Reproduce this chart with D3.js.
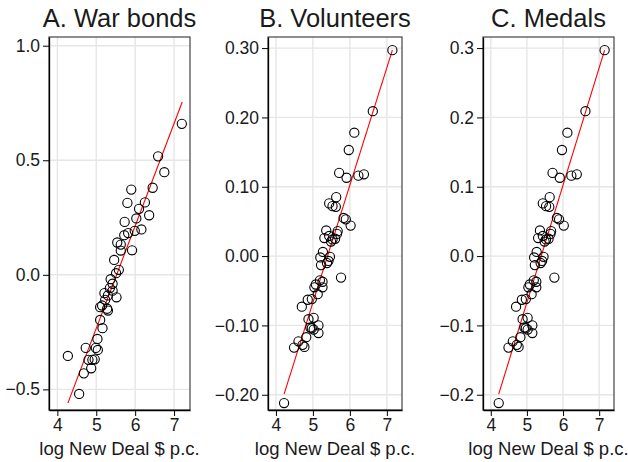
<!DOCTYPE html>
<head>
  <meta charset="utf-8">
  <script src="https://d3js.org/d3.v7.min.js"></script>
  <style>
  body { margin: 0; background: white; }
  #chart text { font-family: "Liberation Sans", Arial, sans-serif; fill: #1a1a1a; }
  .grid line { stroke: #e6e6e6; stroke-width: 1.4; }
  .axis path, .axis line { stroke: black; }
  </style>
</head>

<body>
  <svg id="chart"></svg>
  <script>

    // panel A: war bonds
    var bondsX = [7.20, 6.59, 6.75, 5.90, 6.45, 5.80, 6.25, 6.10, 6.36, 6.03, 5.73, 6.16, 5.99, 5.82, 5.72, 5.54, 5.63, 5.92,
                  5.63, 5.46, 5.58, 5.51, 5.37, 5.42, 5.35, 5.21, 5.42, 5.52, 5.30, 5.23, 5.15, 5.10, 5.28, 5.30, 5.10, 5.16,
                  5.03, 4.73, 4.99, 5.04, 4.27, 4.80, 4.90, 4.96, 4.87, 4.68, 4.56];
    var bondsY = [0.659, 0.517, 0.448, 0.372, 0.380, 0.314, 0.316, 0.288, 0.260, 0.246, 0.231, 0.198, 0.192, 0.182, 0.173, 0.141, 0.132, 0.107,
                  0.106, 0.065, 0.022, 0.007, -0.019, -0.039, -0.058, -0.080, -0.069, -0.098, -0.090, -0.109, -0.134, -0.141, -0.148, -0.156, -0.197, -0.233,
                  -0.280, -0.319, -0.319, -0.328, -0.354, -0.371, -0.371, -0.369, -0.408, -0.430, -0.520];

    // panels B and C: volunteers and medals share the same values
    var volX = [7.15, 6.62, 6.12, 5.97, 5.71, 5.91, 6.23, 6.38, 5.63, 5.44, 5.53, 5.62, 5.83, 5.89, 6.02, 5.36, 5.67,
                5.65, 5.31, 5.44, 5.53, 5.60, 5.49, 5.27, 5.20, 5.46, 5.42, 5.38, 5.22, 5.76, 5.19, 5.26, 5.08, 5.04, 5.26,
                5.13, 4.97, 4.86, 4.70, 5.02, 4.88, 5.15, 4.93, 4.97, 5.02, 5.15, 4.82, 4.61, 4.72, 4.77, 4.49, 4.22];
    var volY = [0.297, 0.209, 0.178, 0.153, 0.120, 0.113, 0.116, 0.118, 0.085, 0.076, 0.072, 0.071, 0.055, 0.053, 0.044, 0.037, 0.036,
                0.032, 0.026, 0.029, 0.024, 0.025, 0.021, 0.006, -0.002, -0.001, -0.007, -0.010, -0.013, -0.031, -0.035, -0.037, -0.041, -0.045, -0.045,
                -0.055, -0.062, -0.063, -0.073, -0.089, -0.091, -0.100, -0.103, -0.104, -0.106, -0.111, -0.117, -0.123, -0.128, -0.131, -0.132, -0.212];

    // fitted lines, endpoints
    var fitBondsX = [4.27, 7.21], fitBondsY = [-0.56, 0.754];
    var fitVolX = [4.22, 7.15], fitVolY = [-0.199, 0.297];

    var titles = ["A. War bonds", "B. Volunteers", "C. Medals"];
    var xTicks = [4, 5, 6, 7];
    var yTicksA = [-0.5, 0.0, 0.5, 1.0];
    var yTicksB = [-0.20, -0.10, 0.00, 0.10, 0.20, 0.30];

    var width = 628, height = 462;
    var plotTop = 37, plotBottom = 410;

    var panels = [
      { title: titles[0], left: 49, right: 190, xs: bondsX, ys: bondsY, fx: fitBondsX, fy: fitBondsY,
        ydom: [-0.59, 1.038], yticks: yTicksA, fmt: d3.format(".1f") },
      { title: titles[1], left: 268, right: 402, xs: volX, ys: volY, fx: fitVolX, fy: fitVolY,
        ydom: [-0.222, 0.316], yticks: yTicksB, fmt: d3.format(".2f") },
      { title: titles[2], left: 483, right: 614, xs: volX, ys: volY, fx: fitVolX, fy: fitVolY,
        ydom: [-0.222, 0.316], yticks: yTicksB, fmt: d3.format(".1f") }
    ];

    var chart = d3.select('#chart')
        .attr('width', width)
        .attr('height', height);

    panels.forEach(function(p) {
      var x = d3.scaleLinear().domain([3.785, 7.41]).range([p.left, p.right]);
      var y = d3.scaleLinear().domain(p.ydom).range([plotBottom, plotTop]);
      var g = chart.append('g');

      var grid = g.append('g').attr('class', 'grid');
      grid.selectAll('.gx').data(xTicks).enter().append('line')
          .attr('x1', x).attr('x2', x).attr('y1', plotTop).attr('y2', plotBottom);
      grid.selectAll('.gy').data(p.yticks).enter().append('line')
          .attr('y1', y).attr('y2', y).attr('x1', p.left).attr('x2', p.right);

      g.append('rect')
          .attr('x', p.left).attr('y', plotTop)
          .attr('width', p.right - p.left).attr('height', plotBottom - plotTop)
          .attr('fill', 'none').attr('stroke', '#444').attr('stroke-width', 1.2);

      var yAxis = g.append('g').attr('class', 'axis')
          .attr('transform', 'translate(' + p.left + ',0)')
          .call(d3.axisLeft(y).tickValues(p.yticks).tickFormat(p.fmt).tickSize(6).tickSizeOuter(0).tickPadding(3));
      yAxis.select('.domain').attr('stroke-width', 1.3);
      yAxis.selectAll('text').style('font-size', '17.5px');

      var xAxis = g.append('g').attr('class', 'axis')
          .attr('transform', 'translate(0,' + plotBottom + ')')
          .call(d3.axisBottom(x).tickValues(xTicks).tickFormat(d3.format('d')).tickSize(6).tickSizeOuter(0).tickPadding(3));
      xAxis.select('.domain').attr('stroke-width', 1.3);
      xAxis.selectAll('text').style('font-size', '17.5px');

      g.append('line')
          .attr('x1', x(p.fx[0])).attr('y1', y(p.fy[0]))
          .attr('x2', x(p.fx[1])).attr('y2', y(p.fy[1]))
          .attr('stroke', '#ff0000').attr('stroke-width', 1.1);

      g.selectAll('circle')
          .data(d3.range(p.xs.length))
        .enter().append('circle')
          .attr('cx', function(i) { return x(p.xs[i]); })
          .attr('cy', function(i) { return y(p.ys[i]); })
          .attr('r', 4.6)
          .attr('fill', 'none')
          .attr('stroke', 'black')
          .attr('stroke-width', 1.1);

      var mid = (p.left + p.right) / 2;
      g.append('text')
          .attr('x', mid).attr('y', 27)
          .attr('text-anchor', 'middle')
          .style('font-size', '25.5px')
          .text(p.title);

      g.append('text')
          .attr('x', mid).attr('y', 455)
          .attr('text-anchor', 'middle')
          .style('font-size', '18.5px')
          .text('log New Deal $ p.c.');
    });

  </script>
</body>
